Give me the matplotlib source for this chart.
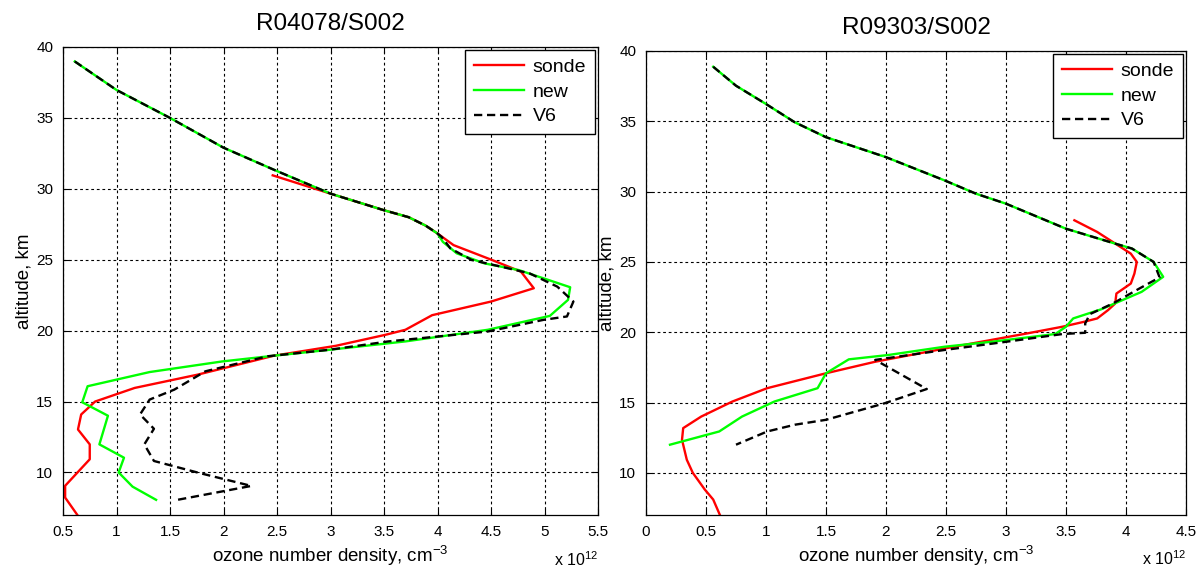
import matplotlib
matplotlib.use("Agg")
import matplotlib.pyplot as plt

# ---------------- data (ozone number density in units of 1e12 cm^-3, altitude km) ----------
# Left panel: R04078/S002
L_sonde_x = [2.46, 3.0, 3.5, 3.73, 3.89, 4.0, 4.15, 4.51, 4.78, 4.9, 4.5, 3.95, 3.7, 3.51, 3.05,
             2.47, 1.76, 1.17, 0.8, 0.67, 0.64, 0.75, 0.75, 0.52, 0.52, 0.64]
L_sonde_y = [30.95, 29.66, 28.49, 28.0, 27.4, 26.85, 26.03, 24.98, 24.16, 22.99, 22.05, 21.09,
             20.06, 19.7, 18.93, 18.23, 16.9, 15.96, 15.0, 14.09, 13.03, 11.98, 10.93, 9.06, 8.23, 6.94]

L_new_x = [0.61, 1.0, 1.5, 2.0, 2.5, 3.0, 3.5, 3.73, 3.89, 4.0, 4.05, 4.18, 4.44, 4.76, 5.24, 5.22,
           5.05, 4.47, 3.7, 2.99, 2.47, 1.99, 1.31, 0.73, 0.68, 0.92, 0.84, 1.07, 1.02, 1.15, 1.37]
L_new_y = [38.98, 36.97, 35.0, 32.9, 31.25, 29.66, 28.49, 28.0, 27.4, 26.85, 26.26, 25.45, 24.74,
           24.27, 23.06, 22.17, 21.04, 20.06, 19.24, 18.65, 18.23, 17.83, 17.08, 16.08, 14.95,
           14.0, 11.98, 11.04, 10.0, 9.0, 8.07]

L_v6_x = [0.61, 1.0, 1.5, 2.0, 2.5, 3.0, 3.5, 3.73, 3.89, 4.0, 4.04, 4.12, 4.32, 4.6, 4.86, 5.12,
          5.27, 5.21, 4.99, 4.47, 4.02, 3.54, 2.99, 2.41, 1.83, 1.70, 1.54, 1.31, 1.22, 1.35, 1.26,
          1.35, 1.76, 2.26, 1.57]
L_v6_y = [38.98, 36.97, 35.0, 32.9, 31.25, 29.66, 28.49, 28.0, 27.4, 26.85, 26.6, 25.8, 24.98,
          24.5, 24.04, 23.1, 22.05, 21.0, 20.76, 19.94, 19.6, 19.24, 18.65, 18.19, 17.13, 16.55,
          15.84, 15.14, 14.09, 13.08, 11.98, 10.81, 9.99, 9.05, 8.07]

# Right panel: R09303/S002
R_sonde_x = [3.57, 3.76, 3.92, 4.04, 4.09, 4.07, 4.04, 3.92, 3.91, 3.85, 3.76, 3.65, 3.47, 3.18,
             2.60, 1.91, 1.5, 1.01, 0.72, 0.46, 0.31, 0.30, 0.34, 0.39, 0.49, 0.56, 0.62]
R_sonde_y = [27.96, 27.13, 26.25, 25.59, 25.0, 24.17, 23.46, 22.75, 22.04, 21.57, 20.98, 20.74,
             20.39, 19.92, 19.02, 17.9, 17.08, 16.02, 15.07, 14.0, 13.18, 12.35, 10.93, 10.0,
             8.81, 8.1, 6.92]

R_new_x = [0.56, 0.75, 1.0, 1.24, 1.5, 2.0, 2.49, 2.75, 3.0, 3.5, 3.91, 4.05, 4.23, 4.31, 4.13,
           3.79, 3.56, 3.5, 3.41, 2.89, 2.49, 2.02, 1.69, 1.5, 1.43, 1.07, 0.80, 0.61, 0.2]
R_new_y = [38.88, 37.53, 36.23, 34.93, 33.87, 32.45, 30.79, 29.85, 29.14, 27.36, 26.3, 25.95,
           25.0, 23.94, 22.87, 21.62, 20.98, 20.39, 19.87, 19.33, 18.97, 18.38, 18.07, 17.08,
           16.02, 15.07, 14.0, 12.94, 12.0]

R_v6_x = [0.56, 0.75, 1.0, 1.24, 1.5, 2.0, 2.49, 2.75, 3.0, 3.5, 3.91, 4.05, 4.23, 4.28, 4.11,
          3.89, 3.7, 3.66, 3.66, 3.47, 3.01, 2.49, 1.91, 2.34, 1.99, 1.5, 1.24, 1.01, 0.75]
R_v6_y = [38.88, 37.53, 36.23, 34.93, 33.87, 32.45, 30.79, 29.85, 29.14, 27.36, 26.3, 25.95,
          25.0, 23.9, 23.1, 22.04, 21.29, 20.63, 19.96, 19.87, 19.33, 18.74, 18.03, 15.96,
          14.95, 13.77, 13.42, 12.94, 12.0]

titles = ["R04078/S002", "R09303/S002"]
legend_labels = ["sonde", "new", "V6"]
L_xticks = [0.5, 1, 1.5, 2, 2.5, 3, 3.5, 4, 4.5, 5, 5.5]
R_xticks = [0, 0.5, 1, 1.5, 2, 2.5, 3, 3.5, 4, 4.5]
yticks = [10, 15, 20, 25, 30, 35, 40]

plt.rcParams['font.family'] = ['Liberation Sans', 'DejaVu Sans']
plt.rcParams['mathtext.fontset'] = 'custom'
plt.rcParams['mathtext.rm'] = 'Liberation Sans'
plt.rcParams['mathtext.it'] = 'Liberation Sans'
plt.rcParams['mathtext.default'] = 'regular'

fig = plt.figure(figsize=(11.97, 5.69), dpi=100)
ax1 = fig.add_axes([63/1197, 1-515/569, 535/1197, 468/569])
ax2 = fig.add_axes([646/1197, 1-515/569, 540/1197, 464/569])

panels = [
    (ax1, L_sonde_x, L_sonde_y, L_new_x, L_new_y, L_v6_x, L_v6_y, L_xticks, (0.5, 5.5), titles[0]),
    (ax2, R_sonde_x, R_sonde_y, R_new_x, R_new_y, R_v6_x, R_v6_y, R_xticks, (0, 4.5), titles[1]),
]

for ax, sx, sy, nx, ny, vx, vy, xt, xl, title in panels:
    ax.plot(sx, sy, color=(1, 0, 0), lw=1.7, label=legend_labels[0])
    ax.plot(nx, ny, color=(0, 1, 0), lw=1.7, label=legend_labels[1])
    ax.plot(vx, vy, color='black', lw=1.7, ls=(0, (3.5, 2)), label=legend_labels[2])
    ax.set_xlim(*xl)
    ax.set_ylim(7, 40)
    ax.set_xticks(xt)
    ax.set_xticklabels(["%g" % v for v in xt])
    ax.set_yticks(yticks)
    ax.tick_params(direction='in', labelsize=11, length=4, top=True, right=True, pad=7)
    ax.grid(True, color='black', ls=(0, (2.5, 2.5)), lw=0.8)
    for sp in ax.spines.values():
        sp.set_linewidth(0.9)
    ax.set_title(title, fontsize=17.5, pad=12)
    ax.set_ylabel("altitude, km", fontsize=13.5, labelpad=3)
    ax.set_xlabel("ozone number density, cm$^{\\mathregular{-3}}$", fontsize=13.5, labelpad=4)
    ax.text(1.0, -0.095, r"x 10$^{12}$", transform=ax.transAxes, fontsize=11.5,
            ha='right', va='center')
    leg = ax.legend(loc='upper right', fontsize=14, handlelength=2.6, borderaxespad=0.15,
                    fancybox=False, framealpha=1, edgecolor='black', labelspacing=0.36,
                    borderpad=0.45, handletextpad=0.45)
    leg.get_frame().set_linewidth(1.0)

fig.savefig("out.png", dpi=100)
